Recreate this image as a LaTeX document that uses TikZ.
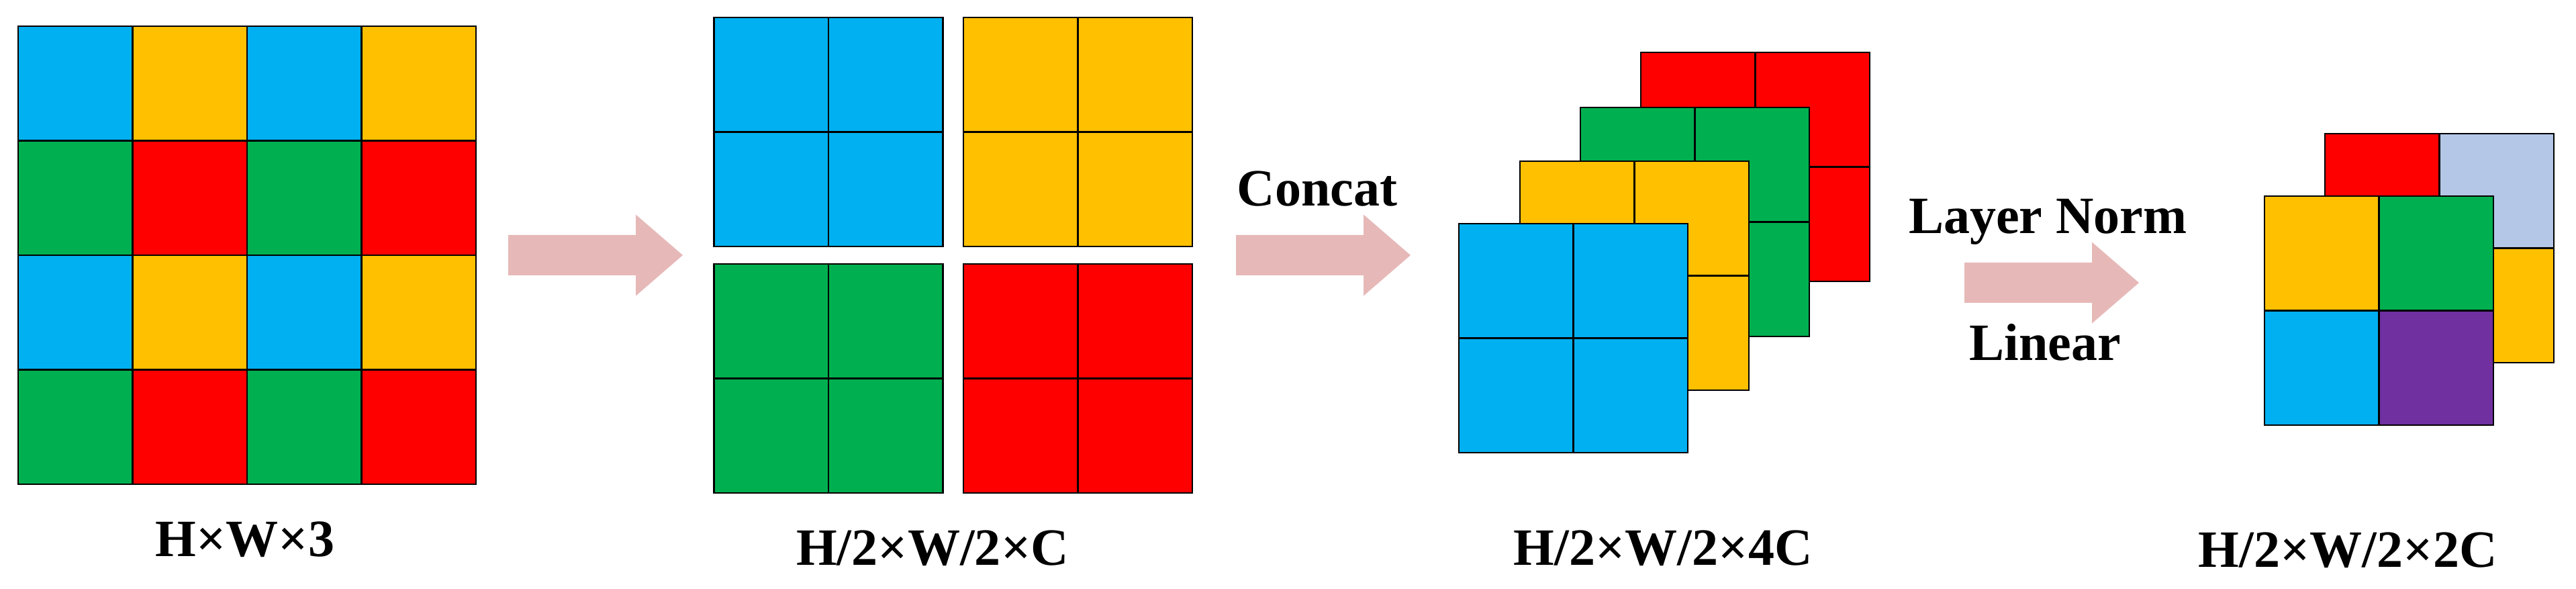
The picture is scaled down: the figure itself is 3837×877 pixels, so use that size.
\documentclass[tikz,border=0pt]{standalone}
\usepackage{fontspec}
\setmainfont{Liberation Serif}
\definecolor{cblue}{HTML}{00B0F0}
\definecolor{cyellow}{HTML}{FFC000}
\definecolor{cgreen}{HTML}{00B050}
\definecolor{cred}{HTML}{FF0000}
\definecolor{cpurple}{HTML}{7030A0}
\definecolor{clight}{HTML}{B4C7E7}
\definecolor{arrowpink}{HTML}{E6B9B8}
\newcommand{\quadblk}[7]{%
  \node[cell,fill=#4] (#1-tl) at (#2,#3) {};
  \node[cell,fill=#5] (#1-tr) at (#2+170.5,#3) {};
  \node[cell,fill=#6] (#1-bl) at (#2,#3+170.5) {};
  \node[cell,fill=#7] (#1-br) at (#2+170.5,#3+170.5) {};
}
\begin{document}
\begin{tikzpicture}[x=0.01cm,y=-0.01cm,
  cell/.style={draw=black,line width=0.7pt,minimum width=1.705cm,minimum height=1.705cm,inner sep=0pt,outer sep=0pt,anchor=north west},
  lbl/.style={font=\fontsize{22.2}{26}\selectfont\bfseries,inner sep=0pt,anchor=base},
  fatarrow/.pic={\fill[arrowpink] (0,-30) -- (190,-30) -- (190,-60.5) -- (260,0) -- (190,60.5) -- (190,30) -- (0,30) -- cycle;}
]
\useasboundingbox (0,0) rectangle (3837,877);

% group 1: input H x W x 3
\quadblk{ga}{27}{39}{cblue}{cyellow}{cgreen}{cred}
\quadblk{gb}{368}{39}{cblue}{cyellow}{cgreen}{cred}
\quadblk{gc}{27}{380}{cblue}{cyellow}{cgreen}{cred}
\quadblk{gd}{368}{380}{cblue}{cyellow}{cgreen}{cred}
\node[lbl] (l1) at (365,829) {H×W×3};

% arrow 1
\coordinate (a1) at (757,380);
\pic at (a1) {fatarrow};

% group 2: four patches
\quadblk{pb}{1063.5}{26}{cblue}{cblue}{cblue}{cblue}
\quadblk{py}{1435}{26}{cyellow}{cyellow}{cyellow}{cyellow}
\quadblk{pg}{1063.5}{393}{cgreen}{cgreen}{cgreen}{cgreen}
\quadblk{pr}{1435}{393}{cred}{cred}{cred}{cred}
\node[lbl] (l2) at (1389,842) {H/2×W/2×C};

% arrow 2
\node[lbl] (concat) at (1962,307) {Concat};
\coordinate (a2) at (1841,380);
\pic at (a2) {fatarrow};

% group 3: stacked
\quadblk{sr}{2444}{78}{cred}{cred}{cred}{cred}
\quadblk{sg}{2354}{160}{cgreen}{cgreen}{cgreen}{cgreen}
\quadblk{sy}{2264}{240}{cyellow}{cyellow}{cyellow}{cyellow}
\quadblk{sb}{2173}{333}{cblue}{cblue}{cblue}{cblue}
\node[lbl] (l3) at (2477,842) {H/2×W/2×4C};

% arrow 3
\node[lbl] (ln) at (3050,348) {Layer Norm};
\node[lbl] (lin) at (3046,537) {Linear};
\coordinate (a3) at (2926,421);
\pic at (a3) {fatarrow};

% group 4: output
\quadblk{ob}{3463}{199}{cred}{clight}{cpurple}{cyellow}
\quadblk{of}{3373}{292}{cyellow}{cgreen}{cblue}{cpurple}
\node[lbl] (l4) at (3497,845) {H/2×W/2×2C};
\end{tikzpicture}
\end{document}
